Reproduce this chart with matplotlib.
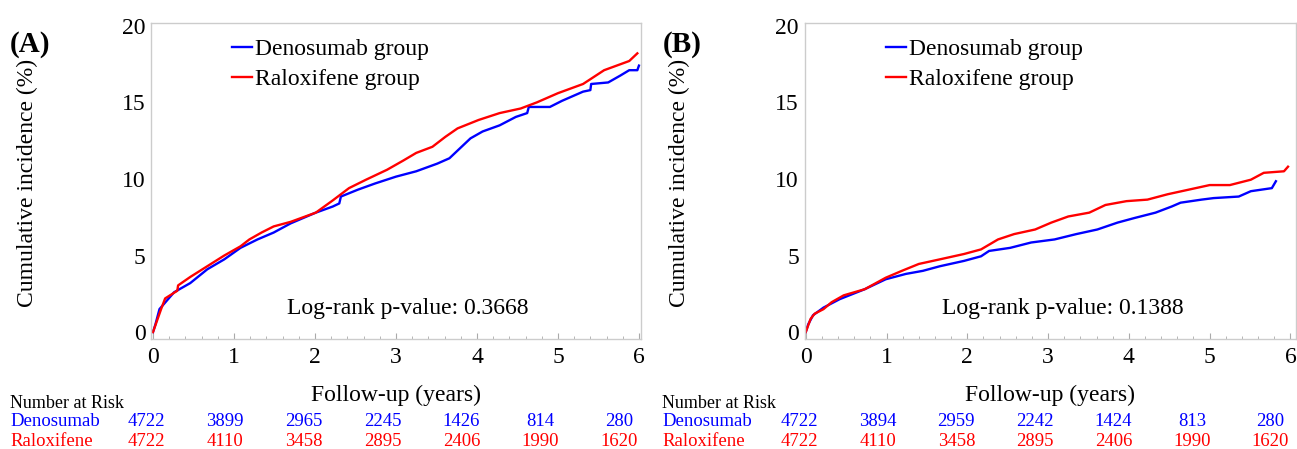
import numpy as np
import matplotlib
matplotlib.use("Agg")
import matplotlib.pyplot as plt
from matplotlib.ticker import MultipleLocator
from matplotlib.transforms import blended_transform_factory

plt.rcParams['font.family'] = ['Liberation Serif', 'DejaVu Serif']

# ---- data ----
# panel A
a_den_t = [0, 0.03, 0.08, 0.26, 0.46, 0.67, 0.88, 1.08, 1.29, 1.49, 1.70, 2.01, 2.22, 2.30, 2.32,
           2.53, 2.74, 3.00, 3.25, 3.51, 3.66, 3.81, 3.92, 4.07, 4.28, 4.48, 4.62, 4.64, 4.90,
           5.05, 5.31, 5.40, 5.41, 5.62, 5.77, 5.88, 5.98, 6.00]
a_den_y = [0, 0.5, 1.5, 2.6, 3.2, 4.1, 4.75, 5.5, 6.05, 6.5, 7.1, 7.8, 8.2, 8.4, 8.85,
           9.3, 9.7, 10.15, 10.5, 11.0, 11.35, 12.1, 12.65, 13.1, 13.5, 14.05, 14.3, 14.7, 14.7,
           15.1, 15.7, 15.8, 16.2, 16.3, 16.75, 17.1, 17.1, 17.4]
a_ral_t = [0, 0.03, 0.10, 0.15, 0.30, 0.31, 0.46, 0.67, 0.88, 1.08, 1.19, 1.34, 1.49, 1.70, 2.01,
           2.22, 2.42, 2.63, 2.89, 3.09, 3.25, 3.45, 3.61, 3.76, 4.02, 4.28, 4.54, 4.74, 5.00,
           5.31, 5.57, 5.88, 5.98]
a_ral_y = [0, 0.45, 1.5, 2.2, 2.7, 3.05, 3.6, 4.3, 5.0, 5.6, 6.05, 6.5, 6.9, 7.2, 7.8,
           8.6, 9.4, 9.95, 10.6, 11.2, 11.7, 12.1, 12.75, 13.3, 13.85, 14.3, 14.6, 15.0, 15.6,
           16.2, 17.1, 17.7, 18.2]
# panel B
b_den_t = [0, 0.03, 0.09, 0.22, 0.42, 0.73, 0.99, 1.24, 1.45, 1.66, 1.96, 2.17, 2.27, 2.53,
           2.79, 3.08, 3.35, 3.61, 3.86, 4.07, 4.33, 4.53, 4.64, 4.90, 5.05, 5.36, 5.51, 5.77, 5.82]
b_den_y = [0, 0.5, 1.1, 1.6, 2.15, 2.8, 3.45, 3.8, 4.0, 4.3, 4.65, 4.95, 5.3, 5.5,
           5.85, 6.05, 6.4, 6.7, 7.15, 7.45, 7.8, 8.2, 8.45, 8.65, 8.75, 8.85, 9.2, 9.4, 9.85]
b_ral_t = [0, 0.06, 0.11, 0.22, 0.32, 0.47, 0.73, 0.99, 1.19, 1.40, 1.66, 1.96, 2.17, 2.38,
           2.58, 2.84, 3.04, 3.25, 3.51, 3.71, 3.97, 4.23, 4.48, 4.74, 5.00, 5.25, 5.51, 5.67,
           5.92, 5.97]
b_ral_y = [0, 0.86, 1.2, 1.5, 1.95, 2.4, 2.8, 3.55, 4.0, 4.45, 4.75, 5.1, 5.4, 6.05,
           6.4, 6.7, 7.15, 7.55, 7.8, 8.3, 8.55, 8.65, 9.0, 9.3, 9.6, 9.6, 9.95, 10.4,
           10.5, 10.8]

risk_den_a = [4722, 3899, 2965, 2245, 1426, 814, 280]
risk_ral_a = [4722, 4110, 3458, 2895, 2406, 1990, 1620]
risk_den_b = [4722, 3894, 2959, 2242, 1424, 813, 280]
risk_ral_b = [4722, 4110, 3458, 2895, 2406, 1990, 1620]

pvals = ["0.3668", "0.1388"]
panel_labels = ["(A)", "(B)"]

BLUE = '#0000ff'
RED = '#ff0000'

fig = plt.figure(figsize=(12.97, 4.49), dpi=100)

panels = [
    dict(rect=[0.1164, 0.2450, 0.3778, 0.7044], xlim=(-0.025, 6.025), x0=0.0,
         den=(a_den_t, a_den_y), ral=(a_ral_t, a_ral_y), rd=risk_den_a, rr=risk_ral_a),
    dict(rect=[0.6203, 0.2450, 0.3790, 0.7044], xlim=(-0.015, 6.07), x0=0.5027,
         den=(b_den_t, b_den_y), ral=(b_ral_t, b_ral_y), rd=risk_den_b, rr=risk_ral_b),
]

for k, p in enumerate(panels):
    ax = fig.add_axes(p['rect'])
    ax.plot(p['den'][0], p['den'][1], color=BLUE, lw=1.7, label='Denosumab group')
    ax.plot(p['ral'][0], p['ral'][1], color=RED, lw=1.7, label='Raloxifene group')
    ax.set_xlim(*p['xlim'])
    ax.set_ylim(-0.45, 20.2)
    ax.set_xticks(range(7))
    ax.set_yticks([0, 5, 10, 15, 20])
    ax.xaxis.set_minor_locator(MultipleLocator(0.2))
    for s in ax.spines.values():
        s.set_color('#cccccc')
        s.set_linewidth(1.0)
    ax.tick_params(axis='x', which='major', direction='in', length=4, color='#aaaaaa',
                   labelsize=17, pad=6)
    ax.tick_params(axis='x', which='minor', direction='in', length=2.5, color='#aaaaaa')
    ax.tick_params(axis='y', which='major', length=0, labelsize=17, pad=4)

    leg = ax.legend(loc='upper left', bbox_to_anchor=(0.165, 0.95), frameon=False,
                    fontsize=17, handlelength=0.85, handletextpad=0.15, labelspacing=0.36,
                    borderaxespad=0, borderpad=0)
    for h in leg.get_lines():
        h.set_linewidth(1.7)

    ax.text(0.525, 0.095, "Log-rank p-value: " + pvals[k], transform=ax.transAxes,
            ha='center', va='center', fontsize=17)
    ax.text(0.5, -0.178, "Follow-up (years)", transform=ax.transAxes,
            ha='center', va='center', fontsize=17)

    # y label and panel letter
    fig.text(p['x0'] + 0.0212, 0.593, "Cumulative incidence (%)", rotation=90,
             ha='center', va='center', fontsize=17)
    fig.text(p['x0'] + 0.0231, 0.902, panel_labels[k], ha='center', va='center',
             fontsize=21, fontweight='bold')

    # number at risk table
    tr = blended_transform_factory(ax.transData, fig.transFigure)
    fig.text(p['x0'] + 0.0077, 1 - 403 / 449, "Number at Risk", ha='left', va='center',
             fontsize=13)
    fig.text(p['x0'] + 0.0077, 1 - 422 / 449, "Denosumab", ha='left', va='center',
             fontsize=13.5, color=BLUE)
    fig.text(p['x0'] + 0.0077, 1 - 441 / 449, "Raloxifene", ha='left', va='center',
             fontsize=13.5, color=RED)
    for i in range(7):
        xx = -0.08 + i * 0.972
        ax.text(xx, 1 - 422 / 449, str(p['rd'][i]), transform=tr, ha='center', va='center',
                fontsize=13.5, color=BLUE, clip_on=False)
        ax.text(xx, 1 - 441 / 449, str(p['rr'][i]), transform=tr, ha='center', va='center',
                fontsize=13.5, color=RED, clip_on=False)

fig.savefig('out.png', dpi=100)
